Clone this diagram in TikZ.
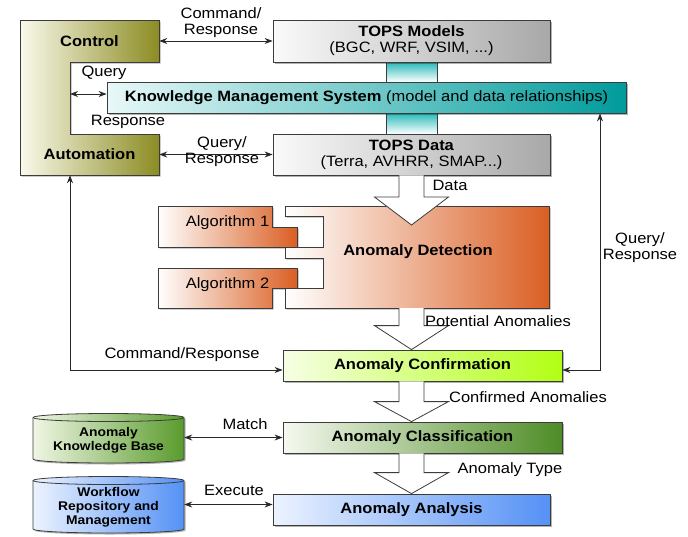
\documentclass[tikz,border=0pt]{standalone}
\usepackage{fontspec}
\setmainfont{Liberation Sans}[FakeStretch=1.1]
\usetikzlibrary{shadows,arrows.meta,calc}
\definecolor{bordc}{RGB}{60,60,60}
\definecolor{linec}{RGB}{40,40,40}
\definecolor{olL}{RGB}{250,250,236}
\definecolor{olR}{RGB}{140,140,35}
\definecolor{grL}{RGB}{250,250,250}
\definecolor{grR}{RGB}{168,168,168}
\definecolor{tlL}{RGB}{232,248,248}
\definecolor{tlR}{RGB}{0,155,155}
\definecolor{tlC}{RGB}{40,185,185}
\definecolor{orL}{RGB}{255,255,255}
\definecolor{orR}{RGB}{218,95,35}
\definecolor{liL}{RGB}{246,255,228}
\definecolor{liR}{RGB}{178,255,20}
\definecolor{gnL}{RGB}{246,249,240}
\definecolor{gnR}{RGB}{78,140,38}
\definecolor{buL}{RGB}{236,243,255}
\definecolor{buR}{RGB}{85,145,245}
\definecolor{cgL}{RGB}{240,246,228}
\definecolor{cgR}{RGB}{90,155,45}
\newcommand{\blkarrow}[3]{%
  \draw[blk] let \p1=(#1), \p2=(#2) in
    (\x2-12.5pt,\y1) -- (\x2-12.5pt,\y2+#3) -- (\x2-37pt,\y2+#3) -- (\x2,\y2)
    -- (\x2+37pt,\y2+#3) -- (\x2+12.5pt,\y2+#3) -- (\x2+12.5pt,\y1);}
\begin{document}
\begin{tikzpicture}[x=1pt,y=-1pt,
  font=\fontsize{15}{16}\selectfont,
  bd/.style={draw=bordc, line width=0.8pt},
  shd/.style={drop shadow={shadow xshift=1.5pt, shadow yshift=-1.5pt, opacity=0.3, fill=black}},
  box/.style={bd, shd, inner sep=0pt, align=center},
  plain/.style={inner sep=0pt, align=center},
  conn/.style={draw=linec, line width=0.9pt, {Stealth[length=8pt,width=6pt]}-{Stealth[length=8pt,width=6pt]}},
  lbl/.style={inner sep=0pt, align=center},
  blk/.style={draw=bordc, line width=0.8pt, fill=white, line join=miter},
  small/.style={font=\fontsize{12.6}{14}\selectfont\bfseries}
]
\useasboundingbox (0,0) rectangle (688,536);

% Control / Automation C-shape
\path[bd, shd, left color=olL, right color=olR]
  (20,20) -- (159,20) -- (159,62) -- (70,62) -- (70,134) -- (159,134) -- (159,175) -- (20,175) -- cycle;
\node[plain, minimum width=139, minimum height=42] (control) at (89.5,41) {\textbf{Control}};
\node[plain, minimum width=139, minimum height=41] (auto) at (89.5,154.5) {\textbf{Automation}};
\coordinate (cinner) at (70,94);

% teal links
\path[bd, top color=tlC, bottom color=white] (386,62) rectangle (437,82);
\path[bd, top color=tlC, bottom color=white] (386,113) rectangle (437,134);

% TOPS boxes and KMS
\node[box, left color=grL, right color=grR, minimum width=277, minimum height=42] (models) at (411.5,41)
  {\textbf{TOPS Models}\\(BGC, WRF, VSIM, ...)};
\node[box, left color=grL, right color=grR, minimum width=277, minimum height=41] (data) at (411.5,154.5)
  {\textbf{TOPS Data}\\(Terra, AVHRR, SMAP...)};
\node[box, left color=tlL, right color=tlR, minimum width=519, minimum height=31] (kms) at (366.5,97.5)
  {\textbf{Knowledge Management System} (model and data relationships)};

% Algorithms and Anomaly Detection
\path[bd, shd, left color=orL, right color=orR]
  (158,206) -- (272,206) -- (272,227) -- (297,227) -- (297,247) -- (158,247) -- cycle;
\path[bd, shd, left color=orL, right color=orR]
  (158,268) -- (297,268) -- (297,288) -- (272,288) -- (272,308) -- (158,308) -- cycle;
\path[bd, shd, left color=orL, right color=orR]
  (285,206) -- (549,206) -- (549,308) -- (285,308) -- (285,288) -- (323,288) -- (323,258)
  -- (285,258) -- (285,247) -- (323,247) -- (323,216) -- (285,216) -- cycle;
\node[plain] (alg1) at (227.5,223) {Algorithm 1};
\node[plain] (alg2) at (227.5,285) {Algorithm 2};
\node[plain] (det) at (418,252) {\textbf{Anomaly Detection}};
\coordinate (detB) at (411.5,308);
\coordinate (dtip) at (411.5,225);

% pipeline boxes
\node[box, left color=liL, right color=liR, minimum width=279, minimum height=31] (conf) at (422.5,365.5)
  {\textbf{Anomaly Confirmation}};
\node[box, left color=gnL, right color=gnR, minimum width=279, minimum height=31] (cls) at (422.5,437.5)
  {\textbf{Anomaly Classification}};
\node[box, left color=buL, right color=buR, minimum width=277, minimum height=31] (ana) at (411.5,509.5)
  {\textbf{Anomaly Analysis}};

% block arrows
\blkarrow{data.south}{dtip}{28pt}
\blkarrow{detB}{data.south |- conf.north}{24pt}
\blkarrow{data.south |- conf.south}{data.south |- cls.north}{20pt}
\blkarrow{data.south |- cls.south}{data.south |- ana.north}{21pt}

% cylinders
\path[bd, shd, left color=cgL, right color=cgR]
  (33,417.5) -- (33,459) arc[start angle=180,end angle=360,x radius=75.5pt,y radius=4pt]
  -- (184,417.5) arc[start angle=0,end angle=180,x radius=75.5pt,y radius=4pt] -- cycle;
\draw[bd] (33,417.5) arc[start angle=180,end angle=360,x radius=75.5pt,y radius=4pt];
\node[plain, small, minimum width=151] (akb) at (108.5,440) {Anomaly\\Knowledge Base};

\path[bd, shd, left color=buL, right color=buR]
  (33,480.5) -- (33,529) arc[start angle=180,end angle=360,x radius=75.5pt,y radius=4pt]
  -- (184,480.5) arc[start angle=0,end angle=180,x radius=75.5pt,y radius=4pt] -- cycle;
\draw[bd] (33,480.5) arc[start angle=180,end angle=360,x radius=75.5pt,y radius=4pt];
\node[plain, small, minimum width=151] (wf) at (108.5,507.5) {Workflow\\Repository and\\Management};

% connectors
\coordinate (cmdc) at (70,370);
\coordinate (qr) at (600,370);
\draw[conn] (control.east) -- (models.west);
\draw[conn] (auto.east) -- (data.west);
\draw[conn] (cinner) -- (kms.west |- cinner);
\draw[conn] (cinner |- auto.south) -- (cmdc) -- (conf.west |- cmdc);
\draw[conn] (kms.south -| qr) -- (qr) -- (conf.east |- qr);
\draw[conn] (akb.east |- cls.west) -- (cls.west);
\draw[conn] ([yshift=3pt]wf.east) -- ([yshift=3pt]wf.east -| ana.west);

% labels
\node[lbl] (l1) at (221,23) {Command/\\Response};
\node[lbl] (l2) at (104,73) {Query};
\node[lbl] (l3) at (128,122) {Response};
\node[lbl] (l4) at (222,152) {Query/\\Response};
\node[lbl] (l5) at (450,185) {Data};
\node[lbl] (l6) at (498,321) {Potential Anomalies};
\node[lbl] (l7) at (182,355) {Command/Response};
\node[lbl] (l8) at (640,248) {Query/\\Response};
\node[lbl] (l9) at (528,397) {Confirmed Anomalies};
\node[lbl] (l10) at (245,424) {Match};
\node[lbl] (l11) at (510,470) {Anomaly Type};
\node[lbl] (l12) at (234,490) {Execute};
\end{tikzpicture}
\end{document}
